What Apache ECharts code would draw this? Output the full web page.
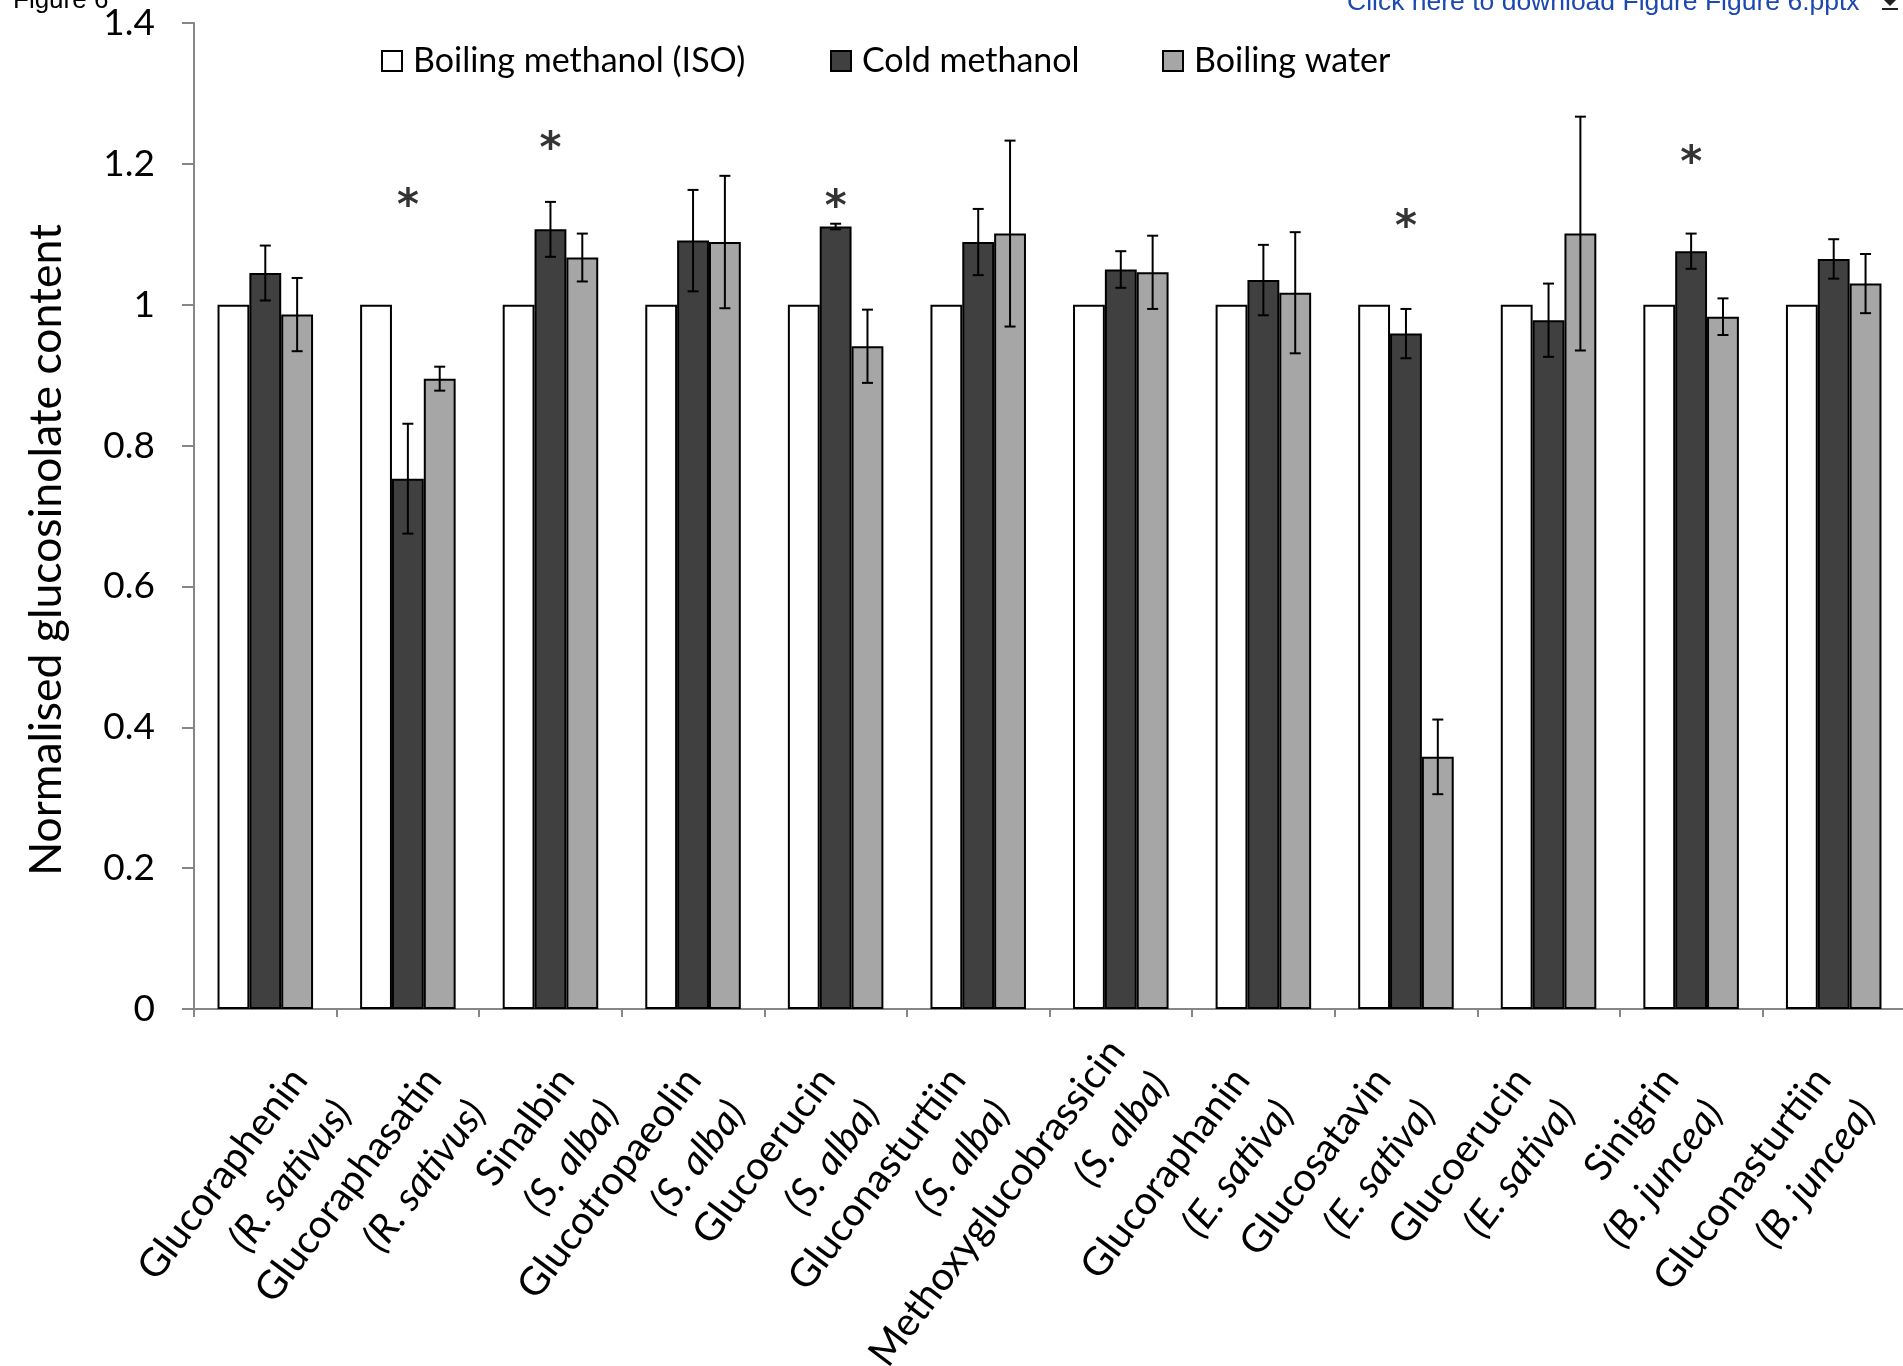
<!DOCTYPE html>
<html>
<head>
<meta charset="utf-8">
<script src="https://cdn.jsdelivr.net/npm/echarts@6/dist/echarts.min.js"></script>
<style>
html,body{margin:0;padding:0;background:#fff;}
#chart{width:1903px;height:1366px;}
</style>
</head>
<body>
<div id="chart"></div>
<script>
// ---- data ----
const compounds = ['Glucoraphenin','Glucoraphasatin','Sinalbin','Glucotropaeolin','Glucoerucin','Gluconasturtiin','Methoxyglucobrassicin','Glucoraphanin','Glucosatavin','Glucoerucin','Sinigrin','Gluconasturtiin'];
const species = ['R. sativus','R. sativus','S. alba','S. alba','S. alba','S. alba','S. alba','E. sativa','E. sativa','E. sativa','B. juncea','B. juncea'];
const seriesNames = ['Boiling methanol (ISO)','Cold methanol','Boiling water'];
const boilingMethanol = [1,1,1,1,1,1,1,1,1,1,1,1];
const coldMethanol = [1.045,0.753,1.107,1.091,1.111,1.089,1.050,1.035,0.959,0.978,1.076,1.065];
const coldMethanolErr = [0.039,0.078,0.039,0.072,0.004,0.047,0.026,0.050,0.035,0.052,0.025,0.028];
const boilingWater = [0.986,0.895,1.067,1.089,0.941,1.101,1.046,1.017,0.358,1.101,0.983,1.030];
const boilingWaterErr = [0.052,0.017,0.034,0.094,0.052,0.132,0.052,0.086,0.053,0.166,0.026,0.042];
const significance = [null,1.148,1.229,null,1.147,null,null,null,1.119,null,1.209,null];
const yTicks = [0,0.2,0.4,0.6,0.8,1,1.2,1.4];

const categories = compounds.map((c,i)=>c+' ('+species[i]+')');
const CAT_GAP = 0.33;

// layout tweaks for the rotated category labels (perpendicular gap / trailing pad, px)
const LABEL_GAP = [94.8,81.4,65.8,40.6,27,7.6,0,5.6,3.8,0,7.6,23];
const LABEL_PAD = [0,5,10.9,20.4,25.5,32.8,0,33.6,34.3,35.7,32.8,27];
const labelRich = {};
compounds.forEach(function(_, i){
  labelRich['g'+i] = {fontSize:1, lineHeight:LABEL_GAP[i]};
  labelRich['n'+i] = {fontFamily:'Lato', fontSize:39.5, color:'#000', lineHeight:55, padding:[0,LABEL_PAD[i],0,0]};
  labelRich['s'+i] = {fontFamily:'Lato', fontStyle:'italic', fontSize:39.5, color:'#000', lineHeight:55, padding:[0,LABEL_PAD[i],0,0]};
});

function errorSeries(values, errs, slot){
  return {
    type:'custom', name: seriesNames[slot]+' error', z:10, silent:true,
    data: values.map((v,i)=>[i, v, errs[i]]),
    renderItem: function(params, api){
      const i = api.value(0), v = api.value(1), e = api.value(2);
      const band = api.size([1,0])[0];
      const bw = band*(1-CAT_GAP)/3;
      const off = (slot-1)*bw;
      const top = api.coord([i, v+e]);
      const bot = api.coord([i, v-e]);
      const x = top[0] + off;
      const cap = 5.5;
      const st = {stroke:'#000', lineWidth:2};
      return {type:'group', children:[
        {type:'line', shape:{x1:x,y1:top[1],x2:x,y2:bot[1]}, style:st},
        {type:'line', shape:{x1:x-cap,y1:top[1],x2:x+cap,y2:top[1]}, style:st},
        {type:'line', shape:{x1:x-cap,y1:bot[1],x2:x+cap,y2:bot[1]}, style:st}
      ]};
    }
  };
}

const legendText = {fontFamily:'Lato', fontSize:34, color:'#000', padding:[0,0,0,6]};
function legendAt(name, left){
  return {data:[name], left:left, top:39, icon:'rect', itemWidth:20, itemHeight:20, textStyle:legendText, selectedMode:false};
}

const chart = echarts.init(document.getElementById('chart'));
chart.setOption({
  animation:false,
  backgroundColor:'#fff',
  grid:{left:194, top:23, width:1711, height:986, outerBoundsMode:'none', containLabel:false},
  legend:[legendAt(seriesNames[0],376), legendAt(seriesNames[1],825), legendAt(seriesNames[2],1157)],
  xAxis:{
    type:'category', data:categories,
    axisLine:{lineStyle:{color:'#868686', width:2}},
    axisTick:{show:true, length:8, lineStyle:{color:'#868686', width:2}},
    axisLabel:{
      interval:0, rotate:53, margin:38.5, padding:[44.6,0,0,0],
      formatter:function(v, idx){
        return '{g'+idx+'|\u00a0}\n{n'+idx+'|'+compounds[idx]+'}\n{s'+idx+'|('+species[idx]+')}';
      },
      rich:labelRich
    }
  },
  yAxis:{
    type:'value', min:0, max:1.4, interval:0.2,
    splitLine:{show:false},
    axisLine:{show:true, lineStyle:{color:'#868686', width:2}},
    axisTick:{show:true, length:12, lineStyle:{color:'#868686', width:2}},
    axisLabel:{margin:39, fontFamily:'Lato', fontSize:37, color:'#000',
      formatter:function(v){ return String(Math.round(v*10)/10); }}
  },
  series:[
    {type:'bar', name:seriesNames[0], data:boilingMethanol, barGap:'0%', barCategoryGap:'33%',
      itemStyle:{color:'#ffffff', borderColor:'#000', borderWidth:2}},
    {type:'bar', name:seriesNames[1], data:coldMethanol, barGap:'0%', barCategoryGap:'33%',
      itemStyle:{color:'#404040', borderColor:'#000', borderWidth:2}},
    {type:'bar', name:seriesNames[2], data:boilingWater, barGap:'0%', barCategoryGap:'33%',
      itemStyle:{color:'#a6a6a6', borderColor:'#000', borderWidth:2}},
    errorSeries(coldMethanol, coldMethanolErr, 1),
    errorSeries(boilingWater, boilingWaterErr, 2),
    {type:'scatter', name:'significance', z:11, silent:true, symbolSize:1, itemStyle:{color:'rgba(0,0,0,0)'},
      data: significance.map((v,i)=>[i, v]).filter(d=>d[1]!=null),
      label:{show:true, position:'inside', formatter:'*', offset:[0,8],
        fontFamily:'DejaVu Sans', fontWeight:'bold', fontSize:42, color:'#000'}}
  ],
  graphic:[
    {type:'text', x:13, y:1, style:{text:'Figure 6', font:'26px "Liberation Sans"', fill:'#000', textAlign:'left', textVerticalAlign:'middle'}},
    {type:'text', x:1347, y:3, style:{text:'Click here to download Figure Figure 6.pptx', font:'26.5px "Liberation Sans"', fill:'#1d48b0', textAlign:'left', textVerticalAlign:'middle'}},
    {type:'polygon', shape:{points:[[1884,0],[1896,0],[1890,6]]}, style:{fill:'#222'}},
    {type:'rect', shape:{x:1882,y:8,width:16,height:2}, style:{fill:'#222'}},
    {type:'text', x:47, y:550, rotation:Math.PI/2, style:{text:'Normalised glucosinolate content', font:'44.5px Lato', fill:'#000', textAlign:'center', textVerticalAlign:'middle'}}
  ]
});
</script>
</body>
</html>
